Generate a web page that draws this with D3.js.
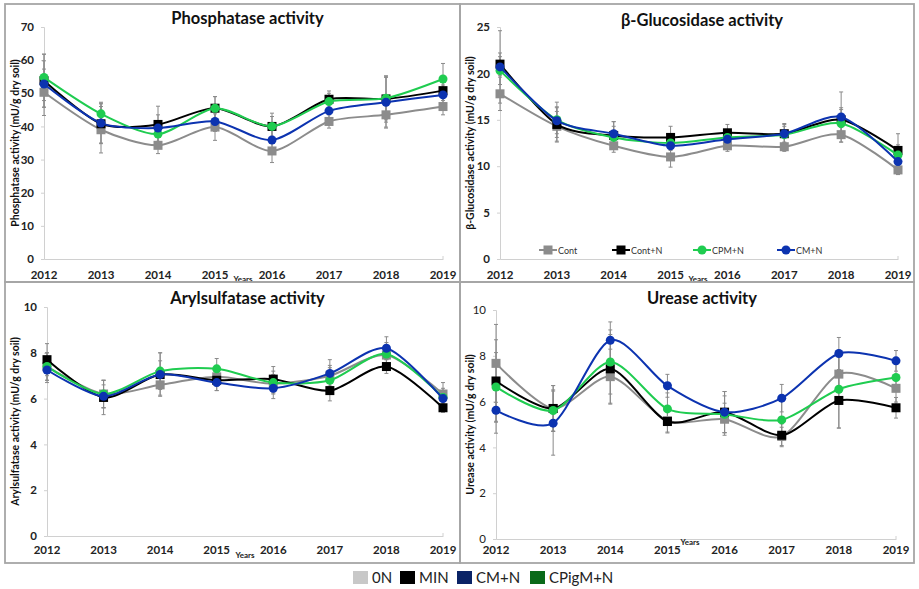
<!DOCTYPE html>
<html>
<head>
<meta charset="utf-8">
<script src="https://cdn.jsdelivr.net/npm/d3@7"></script>
<style>
  body { margin: 0; background: #fff; }
  svg { font-family: Lato, "Open Sans", sans-serif; }
</style>
</head>
<body>
<div id="chart"></div>
<script>
// ---- data ----
const years = ["2012", "2013", "2014", "2015", "2016", "2017", "2018", "2019"];
const seriesNames = ["Cont", "Cont+N", "CPM+N", "CM+N"];
const bottomLegend = ["0N", "MIN", "CM+N", "CPigM+N"];

const phosCont = [50.3, 39.0, 34.3, 39.8, 32.6, 41.5, 43.5, 46.0];
const phosContN = [53.8, 40.8, 40.6, 45.5, 40.0, 48.2, 48.3, 50.8];
const phosCPM = [54.8, 43.8, 37.7, 45.5, 40.0, 47.5, 48.5, 54.3];
const phosCM = [52.8, 41.0, 39.5, 41.5, 35.9, 44.7, 47.3, 49.5];
const phosErrCont = [7, 7, 2.5, 4, 3.5, 2, 4, 2.5];
const phosErrContN = [8, 6, 5.5, 3.5, 4, 2.5, 7, 3];
const phosErrCPM = [7, 3.5, 3, 3.5, 3, 2.5, 6.5, 4.7];
const phosErrCM = [7, 6, 4, 3, 4, 2, 7.5, 3];

const glucCont = [17.8, 14.3, 12.2, 11.0, 12.2, 12.1, 13.4, 9.6];
const glucContN = [21.0, 14.5, 13.3, 13.1, 13.6, 13.5, 15.0, 11.7];
const glucCPM = [20.3, 15.0, 13.1, 12.5, 13.1, 13.4, 14.6, 11.2];
const glucCM = [20.7, 14.9, 13.5, 12.2, 12.9, 13.5, 15.3, 10.5];
const glucErrCont = [1.8, 1.6, 0.7, 1.1, 0.6, 0.5, 0.8, 0.5];
const glucErrContN = [1.2, 1.9, 1.5, 1.2, 0.9, 1.1, 1.3, 1.8];
const glucErrCPM = [1.5, 1.9, 1.2, 0.8, 0.8, 0.9, 1.5, 1.1];
const glucErrCM = [3.9, 1.4, 1.3, 1.0, 1.0, 1.0, 2.7, 1.4];

const arylCont = [7.4, 6.2, 6.6, 6.95, 6.65, 7.0, 7.9, 6.2];
const arylContN = [7.7, 6.05, 7.05, 6.8, 6.85, 6.35, 7.4, 5.6];
const arylCPM = [7.4, 6.2, 7.2, 7.3, 6.7, 6.8, 7.95, 6.05];
const arylCM = [7.25, 6.1, 7.05, 6.7, 6.45, 7.1, 8.2, 6.0];
const arylErrCont = [0.6, 0.6, 0.45, 0.4, 0.4, 0.45, 0.4, 0.5];
const arylErrContN = [0.7, 0.75, 0.95, 0.45, 0.55, 0.45, 0.3, 0.2];
const arylErrCPM = [0.6, 0.6, 0.8, 0.45, 0.5, 0.55, 0.5, 0.4];
const arylErrCM = [0.55, 0.5, 0.6, 0.35, 0.45, 0.6, 0.5, 0.35];

const ureaCont = [7.67, 5.7, 7.09, 5.17, 5.23, 4.48, 7.2, 6.58];
const ureaContN = [6.9, 5.7, 7.43, 5.13, 5.54, 4.53, 6.05, 5.73];
const ureaCPM = [6.64, 5.61, 7.73, 5.68, 5.45, 5.2, 6.54, 7.05];
const ureaCM = [5.62, 5.06, 8.68, 6.69, 5.54, 6.15, 8.1, 7.78];
const ureaErrCont = [1.7, 1.0, 1.2, 0.5, 0.7, 0.4, 0.8, 0.6];
const ureaErrContN = [1.8, 1.0, 1.5, 0.5, 0.9, 0.5, 1.2, 0.45];
const ureaErrCPM = [1.5, 0.9, 1.4, 0.7, 0.8, 0.9, 1.7, 0.6];
const ureaErrCM = [1.0, 1.4, 0.8, 0.5, 0.9, 0.6, 0.7, 0.45];

// ---- styles ----
const seriesColor = ["#8c8c8c", "#000000", "#1fcc50", "#0c33b0"];
const seriesShape = ["square", "square", "circle", "circle"];
const bottomColor = ["#c8c8c8", "#000000", "#0a2366", "#0a6a1a"];

const panels = [
  {
    title: "Phosphatase activity", ylab: "Phosphatase activity  (mU/g dry soil)",
    ymax: 70, ystep: 10, frame: [5, 4, 460, 282], x: [44, 443], y: [259, 27],
    titleY: 24, yearY: 279, yearsLab: [243, 282], vals: [phosCont, phosContN, phosCPM, phosCM],
    errs: [phosErrCont, phosErrContN, phosErrCPM, phosErrCM], boldTicks: true
  },
  {
    title: "\u03b2-Glucosidase activity", ylab: "\u03b2-Glucosidase activity (mU/g dry soil)",
    ymax: 25, ystep: 5, frame: [460, 4, 914, 282], x: [500, 898], y: [259, 27],
    titleY: 26, yearY: 279, yearsLab: [698, 282], vals: [glucCont, glucContN, glucCPM, glucCM],
    errs: [glucErrCont, glucErrContN, glucErrCPM, glucErrCM], boldTicks: true, legend: true
  },
  {
    title: "Arylsulfatase activity", ylab: "Arylsulfatase activity (mU/g dry soil)",
    ymax: 10, ystep: 2, frame: [5, 282, 460, 563], x: [47, 443], y: [536, 307],
    titleY: 304, yearY: 554, yearsLab: [245, 558], vals: [arylCont, arylContN, arylCPM, arylCM],
    errs: [arylErrCont, arylErrContN, arylErrCPM, arylErrCM], boldTicks: true
  },
  {
    title: "Urease activity", ylab: "Urease activity  (mU/g dry soil)",
    ymax: 10, ystep: 2, frame: [460, 282, 914, 563], x: [496, 896], y: [539, 310],
    titleY: 304, yearY: 554, yearsLab: [690, 545], vals: [ureaCont, ureaContN, ureaCPM, ureaCM],
    errs: [ureaErrCont, ureaErrContN, ureaErrCPM, ureaErrCM], boldTicks: false
  }
];

const svg = d3.select("#chart").append("svg")
  .attr("width", 919).attr("height", 589);

function drawMarker(g, shape, color, cx, cy) {
  if (shape === "square") {
    g.append("rect").attr("x", cx - 4.5).attr("y", cy - 4.5)
      .attr("width", 9).attr("height", 9).attr("fill", color);
  } else {
    g.append("circle").attr("cx", cx).attr("cy", cy).attr("r", 4.5).attr("fill", color);
  }
}

panels.forEach(function (p) {
  const g = svg.append("g");
  const x = d3.scalePoint().domain(years).range(p.x);
  const y = d3.scaleLinear().domain([0, p.ymax]).range(p.y);

  // frame
  g.append("rect")
    .attr("x", p.frame[0]).attr("y", p.frame[1])
    .attr("width", p.frame[2] - p.frame[0]).attr("height", p.frame[3] - p.frame[1])
    .attr("fill", "none").attr("stroke", "#a6a6a6").attr("stroke-width", 1.8);

  // y axis
  const yAxis = g.append("g")
    .attr("transform", "translate(" + p.x[0] + ",0)")
    .call(d3.axisLeft(y).tickValues(d3.range(0, p.ymax + 0.01, p.ystep)).tickSize(3).tickPadding(7));
  yAxis.selectAll("path, line").attr("stroke", "#d0d0d0");
  yAxis.selectAll("text").attr("font-size", 11.5).attr("font-weight", p.boldTicks ? 700 : 400)
    .attr("fill", "#222").attr("font-family", "Lato, sans-serif");

  // x axis
  const xAxis = g.append("g")
    .attr("transform", "translate(0," + p.y[0] + ")")
    .call(d3.axisBottom(x).tickSize(0).tickPadding(0).tickSizeOuter(0));
  xAxis.select(".domain").attr("stroke", "#d0d0d0");
  xAxis.selectAll("text").remove();
  g.append("line").attr("x1", p.x[1]).attr("x2", p.x[1]).attr("y1", p.y[0]).attr("y2", p.y[0] - 3)
    .attr("stroke", "#d0d0d0");
  g.selectAll(".yr").data(years).enter().append("text")
    .attr("x", function (d) { return x(d); })
    .attr("y", p.yearY)
    .attr("text-anchor", "middle").attr("font-size", 11.5).attr("font-weight", 700).attr("fill", "#222")
    .text(function (d) { return d; });

  g.append("text").attr("x", p.yearsLab[0]).attr("y", p.yearsLab[1])
    .attr("text-anchor", "middle").attr("font-size", 8).attr("font-weight", 700).attr("fill", "#222")
    .text("Years");

  // title
  g.append("text")
    .attr("x", (p.frame[0] + p.frame[2]) / 2 + 15).attr("y", p.titleY)
    .attr("text-anchor", "middle").attr("font-size", 16.5).attr("font-weight", 700).attr("fill", "#111")
    .text(p.title);

  // y label
  g.append("text")
    .attr("transform", "translate(" + (p.frame[0] + 14) + "," + ((p.y[0] + p.y[1]) / 2) + ") rotate(-90)")
    .attr("text-anchor", "middle").attr("font-size", 10.5).attr("font-weight", 700).attr("fill", "#111")
    .text(p.ylab);

  // error bars
  p.vals.forEach(function (vals, si) {
    const eg = g.append("g").attr("stroke", "#8a8a8a").attr("stroke-width", 1);
    vals.forEach(function (v, i) {
      const e = p.errs[si][i];
      const cx = x(years[i]);
      eg.append("line").attr("x1", cx).attr("x2", cx).attr("y1", y(v - e)).attr("y2", y(v + e));
      eg.append("line").attr("x1", cx - 2).attr("x2", cx + 2).attr("y1", y(v - e)).attr("y2", y(v - e));
      eg.append("line").attr("x1", cx - 2).attr("x2", cx + 2).attr("y1", y(v + e)).attr("y2", y(v + e));
    });
  });

  // lines + markers
  const line = d3.line()
    .x(function (d, i) { return x(years[i]); })
    .y(function (d) { return y(d); })
    .curve(d3.curveCardinal.tension(0.2));

  p.vals.forEach(function (vals, si) {
    g.append("path").datum(vals)
      .attr("d", line).attr("fill", "none")
      .attr("stroke", seriesColor[si]).attr("stroke-width", 2);
    vals.forEach(function (v, i) {
      drawMarker(g, seriesShape[si], seriesColor[si], x(years[i]), y(v));
    });
  });

  // inner legend
  if (p.legend) {
    const lx = [539, 612, 693, 777];
    const ly = 250;
    seriesNames.forEach(function (name, si) {
      g.append("line").attr("x1", lx[si]).attr("x2", lx[si] + 18).attr("y1", ly).attr("y2", ly)
        .attr("stroke", seriesColor[si]).attr("stroke-width", 2);
      drawMarker(g, seriesShape[si], seriesColor[si], lx[si] + 9, ly);
      g.append("text").attr("x", lx[si] + 19).attr("y", ly + 3.5)
        .attr("font-size", 9).attr("fill", "#333").text(name);
    });
  }
});

// bottom legend
const blx = [353, 400, 457, 530];
bottomLegend.forEach(function (name, i) {
  svg.append("rect").attr("x", blx[i]).attr("y", 571).attr("width", 15).attr("height", 13)
    .attr("fill", bottomColor[i]);
  svg.append("text").attr("x", blx[i] + 19).attr("y", 583)
    .attr("font-size", 15).attr("fill", "#222").text(name);
});
</script>
</body>
</html>
